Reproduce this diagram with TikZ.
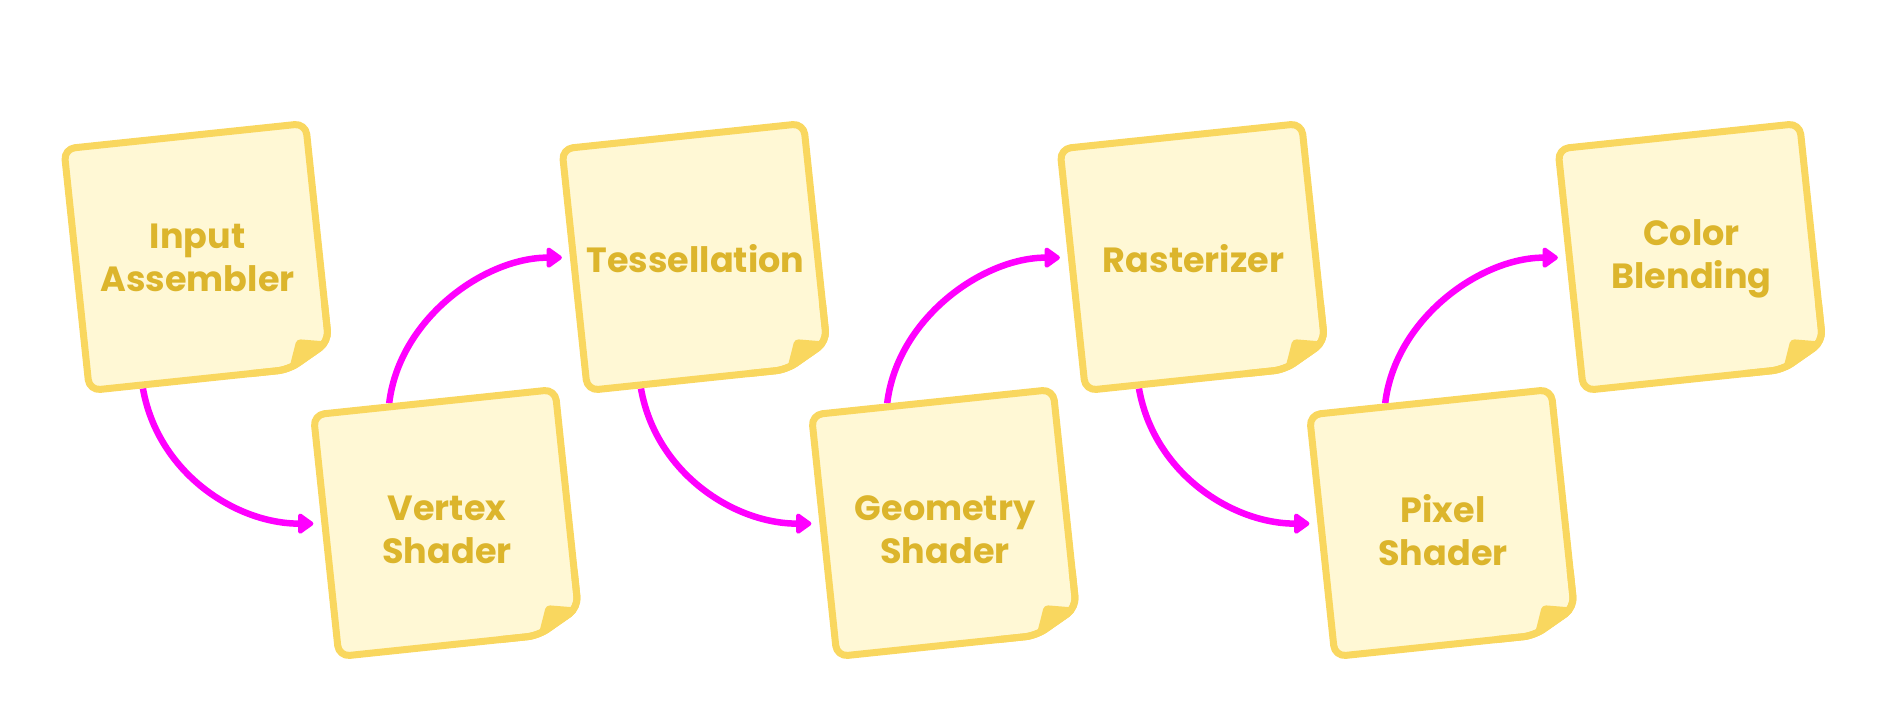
\documentclass[tikz,border=0pt]{standalone}
\usepackage{fontspec}
\setmainfont{Poppins}
\usetikzlibrary{arrows.meta,calc}
\definecolor{notefillc}{HTML}{FFF8D5}
\definecolor{noteline}{HTML}{F9D75F}
\definecolor{notetextc}{HTML}{DCB52C}
\definecolor{arrowc}{HTML}{FF00FF}
\pgfdeclarelayer{bg}
\pgfsetlayers{bg,main}
\tikzset{
 notepath/.style={fill=notefillc, draw=noteline, line width=7bp, rounded corners=11bp, line join=round},
 foldpath/.style={fill=noteline, rounded corners=4bp},
 noteedge/.style={draw=noteline, line width=7bp, rounded corners=11bp, line join=round},
 noteanchor/.style={rectangle, draw=none, fill=none, minimum width=250bp, minimum height=250bp, inner sep=0pt, outer sep=0pt, rotate=6},
 notetext/.style={font=\bfseries\fontsize{35bp}{43bp}\selectfont, text=notetextc, align=center, inner sep=0pt},
 flow/.style={draw=arrowc, line width=6.5bp, -{Triangle[length=17bp,width=23bp,round]}, shorten >=8bp},
}
% #1 name, #2 x, #3 y, #4 text y offset, #5 text
\newcommand\stickynote[5]{%
 \begin{scope}[shift={(#2,#3)}, rotate=6]
  \path[notepath] (0,-121.5) -- (121.5,-121.5) -- (121.5,98) -- (79,121.5) -- (-121.5,121.5) -- (-121.5,-121.5) -- cycle;
  \path[foldpath] (90,92) -- (122,98) -- (79,122) -- cycle;
  \path[noteedge] (121.5,60) -- (121.5,98) -- (79,121.5) -- (40,121.5);
 \end{scope}
 \node[noteanchor] (#1) at (#2,#3) {};
 \node[notetext] (#1-label) at (#2,#3+#4) {#5};
}
\begin{document}
\begin{tikzpicture}[x=1bp, y=-1bp]
\useasboundingbox (0,0) rectangle (1878,725);
\stickynote{n1}{197.5}{257}{1}{Input\\Assembler}
\stickynote{n2}{695.5}{257}{2}{Tessellation}
\stickynote{n3}{1193.5}{257}{2}{Rasterizer}
\stickynote{n4}{1691.5}{257}{2}{Color\\Blending}
\stickynote{v1}{447}{523}{7}{Vertex\\Shader}
\stickynote{v2}{945}{523}{7}{Geometry\\Shader}
\stickynote{v3}{1443}{523}{7}{Pixel\\Shader}
\begin{pgfonlayer}{bg}
\draw[flow] ($(n1.south west)!0.228!(n1.south east)$) .. controls +(15,85) and +(-85,0) .. ($(v1.west)!0.1!(v1.north west)$);
\draw[flow] ($(v1.north west)!0.32!(v1.north east)$) .. controls +(10,-85) and +(-85,0) .. ($(n2.west)!0.1!(n2.north west)$);
\draw[flow] ($(n2.south west)!0.228!(n2.south east)$) .. controls +(15,85) and +(-85,0) .. ($(v2.west)!0.1!(v2.north west)$);
\draw[flow] ($(v2.north west)!0.32!(v2.north east)$) .. controls +(10,-85) and +(-85,0) .. ($(n3.west)!0.1!(n3.north west)$);
\draw[flow] ($(n3.south west)!0.228!(n3.south east)$) .. controls +(15,85) and +(-85,0) .. ($(v3.west)!0.1!(v3.north west)$);
\draw[flow] ($(v3.north west)!0.32!(v3.north east)$) .. controls +(10,-85) and +(-85,0) .. ($(n4.west)!0.1!(n4.north west)$);
\end{pgfonlayer}
\end{tikzpicture}
\end{document}
